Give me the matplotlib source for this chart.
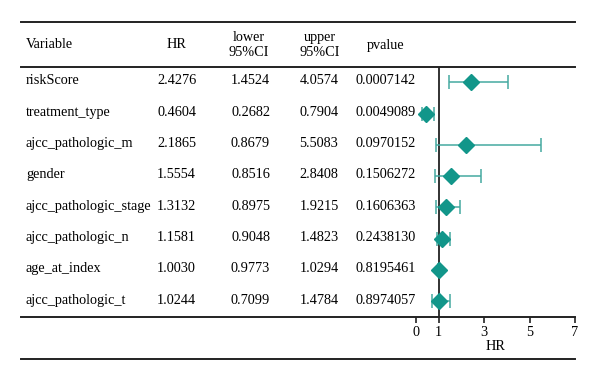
import matplotlib
matplotlib.use("Agg")
import matplotlib.pyplot as plt
from matplotlib.lines import Line2D

variables = ["riskScore", "treatment_type", "ajcc_pathologic_m", "gender",
             "ajcc_pathologic_stage", "ajcc_pathologic_n", "age_at_index", "ajcc_pathologic_t"]
hr = [2.4276, 0.4604, 2.1865, 1.5554, 1.3132, 1.1581, 1.0030, 1.0244]
lower = [1.4524, 0.2682, 0.8679, 0.8516, 0.8975, 0.9048, 0.9773, 0.7099]
upper = [4.0574, 0.7904, 5.5083, 2.8408, 1.9215, 1.4823, 1.0294, 1.4784]
pvalue = ["0.0007142", "0.0049089", "0.0970152", "0.1506272",
          "0.1606363", "0.2438130", "0.8195461", "0.8974057"]
xticks = [0, 1, 3, 5, 7]

plt.rcParams['font.family'] = ['Liberation Serif', 'DejaVu Serif']
W, H = 600, 381
fig = plt.figure(figsize=(6, 3.81), dpi=100)

def fx(px):
    return px / W

def fy(py):
    return 1 - py / H

# forest axes: x 0..7 maps to 416..575 px; rows between y=66 and y=316.7
ax = fig.add_axes([fx(416), fy(316.7), fx(575) - fx(416), fy(66.7) - fy(316.7)])
n = len(variables)
ax.set_xlim(0, 7)
ax.set_ylim(n - 0.5, -0.5)
rows = list(range(n))
for s in ax.spines.values():
    s.set_visible(False)
ax.set_yticks([])
ax.set_xticks(xticks)
ax.set_xticklabels([str(t) for t in xticks], fontsize=10.3)
ax.tick_params(axis='x', direction='out', length=4.5, width=1.2, pad=2, color='#222222')
ax.set_xlabel("HR", fontsize=10.3, labelpad=1)
ax.axvline(1, color='#222222', lw=1.3, zorder=1)

err_lo = [h - l for h, l in zip(hr, lower)]
err_hi = [u - h for h, u in zip(hr, upper)]
ax.errorbar(hr, rows, xerr=[err_lo, err_hi], fmt='none', ecolor='#45A9A0',
            elinewidth=1.1, capsize=5, capthick=1.1, clip_on=False, zorder=2)
ax.plot(hr, rows, 'D', color='#12968A', markersize=8.5, clip_on=False, zorder=3,
        linestyle='none')

# horizontal rules
for y, x0, x1, lw in [(21.7, 21, 575, 1.4), (66.7, 21, 575, 1.4),
                      (316.7, 21, 575, 1.4), (359, 21, 575, 1.4)]:
    fig.add_artist(Line2D([fx(x0), fx(x1)], [fy(y), fy(y)], color='#222222', lw=lw))

fs = 10.3
# header
fig.text(fx(26), fy(44.5), "Variable", fontsize=fs, ha='left', va='center')
fig.text(fx(177), fy(44.5), "HR", fontsize=fs, ha='center', va='center')
fig.text(fx(249), fy(45), "lower\n95%CI", fontsize=fs, ha='center', va='center', linespacing=1.2)
fig.text(fx(319.5), fy(45), "upper\n95%CI", fontsize=fs, ha='center', va='center', linespacing=1.2)
fig.text(fx(386), fy(45), "pvalue", fontsize=fs, ha='center', va='center')

# rows
y0, dy = 80.7, 31.33
for i in range(n):
    y = fy(y0 + i * dy)
    fig.text(fx(26), y, variables[i], fontsize=fs, ha='left', va='center')
    fig.text(fx(176.5), y, f"{hr[i]:.4f}", fontsize=fs, ha='center', va='center')
    fig.text(fx(250.5), y, f"{lower[i]:.4f}", fontsize=fs, ha='center', va='center')
    fig.text(fx(319), y, f"{upper[i]:.4f}", fontsize=fs, ha='center', va='center')
    fig.text(fx(386), y, pvalue[i], fontsize=fs, ha='center', va='center')

fig.savefig("out.png", dpi=100)
